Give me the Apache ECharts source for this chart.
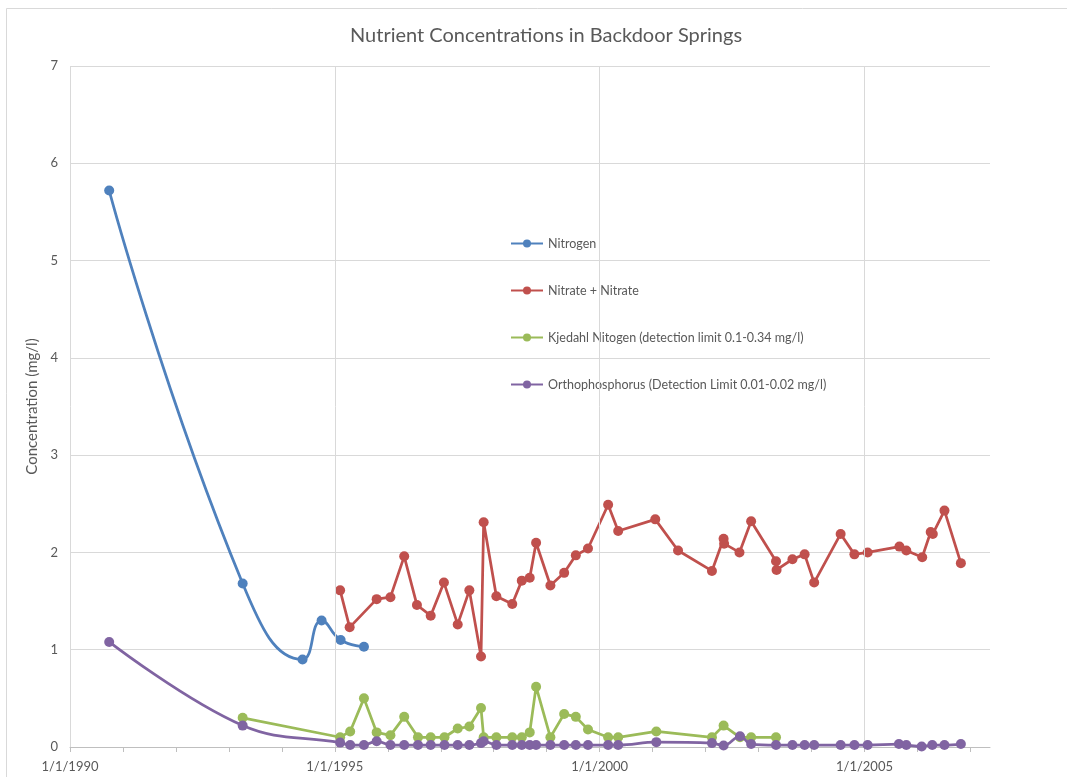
<!DOCTYPE html>
<html>
<head>
<meta charset="utf-8">
<script src="https://cdn.jsdelivr.net/npm/echarts@6/dist/echarts.min.js"></script>
<style>
html,body{margin:0;padding:0;background:#fff;}
#chart{width:1067px;height:777px;}
</style>
</head>
<body>
<div id="chart"></div>
<script>
// Dates as decimal years
const nitrogenX = [1990.74, 1993.26, 1994.39, 1994.75, 1995.11, 1995.55];
const nitrogenY = [5.72, 1.68, 0.90, 1.30, 1.10, 1.03];

const nitrateX = [1995.10, 1995.28, 1995.79, 1996.05, 1996.31, 1996.55, 1996.81, 1997.06, 1997.32, 1997.54,
  1997.76, 1997.81, 1998.05, 1998.35, 1998.53, 1998.68, 1998.80, 1999.07, 1999.33, 1999.55,
  1999.78, 2000.16, 2000.35, 2001.05, 2001.48, 2002.12, 2002.34, 2002.35, 2002.64, 2002.86,
  2003.33, 2003.34, 2003.64, 2003.87, 2004.05, 2004.55, 2004.81, 2005.06, 2005.66, 2005.79,
  2006.09, 2006.25, 2006.29, 2006.51, 2006.82];
const nitrateY = [1.61, 1.23, 1.52, 1.54, 1.96, 1.46, 1.35, 1.69, 1.26, 1.61,
  0.93, 2.31, 1.55, 1.47, 1.71, 1.74, 2.10, 1.66, 1.79, 1.97,
  2.04, 2.49, 2.22, 2.34, 2.02, 1.81, 2.14, 2.09, 2.00, 2.32,
  1.91, 1.82, 1.93, 1.98, 1.69, 2.19, 1.98, 2.00, 2.06, 2.02,
  1.95, 2.21, 2.19, 2.43, 1.89];

const kjedahlX = [1993.26, 1995.10, 1995.29, 1995.55, 1995.79, 1996.05, 1996.31, 1996.57, 1996.81, 1997.07,
  1997.32, 1997.54, 1997.76, 1997.81, 1998.05, 1998.35, 1998.53, 1998.68, 1998.80, 1999.07,
  1999.33, 1999.55, 1999.78, 2000.16, 2000.35, 2001.07, 2002.12, 2002.34, 2002.65, 2002.86, 2003.33];
const kjedahlY = [0.30, 0.10, 0.16, 0.50, 0.15, 0.12, 0.31, 0.10, 0.10, 0.10,
  0.19, 0.21, 0.40, 0.10, 0.10, 0.10, 0.10, 0.15, 0.62, 0.10,
  0.34, 0.31, 0.18, 0.10, 0.10, 0.16, 0.10, 0.22, 0.10, 0.10, 0.10];

const orthoX = [1990.74, 1993.26, 1995.10, 1995.29, 1995.55, 1995.79, 1996.05, 1996.31, 1996.57, 1996.81,
  1997.07, 1997.32, 1997.54, 1997.76, 1997.81, 1998.05, 1998.35, 1998.53, 1998.68, 1998.80,
  1999.07, 1999.33, 1999.55, 1999.78, 2000.16, 2000.35, 2001.07, 2002.12, 2002.34, 2002.65,
  2002.86, 2003.33, 2003.64, 2003.87, 2004.05, 2004.55, 2004.81, 2005.06, 2005.65, 2005.79,
  2006.08, 2006.28, 2006.51, 2006.82];
const orthoY = [1.08, 0.22, 0.045, 0.02, 0.02, 0.06, 0.02, 0.02, 0.02, 0.02,
  0.02, 0.02, 0.02, 0.04, 0.06, 0.02, 0.02, 0.02, 0.02, 0.02,
  0.02, 0.02, 0.02, 0.02, 0.02, 0.02, 0.05, 0.04, 0.015, 0.11,
  0.03, 0.02, 0.02, 0.02, 0.02, 0.02, 0.02, 0.02, 0.03, 0.02,
  0.005, 0.02, 0.02, 0.03];

const seriesNames = ['Nitrogen', 'Nitrate + Nitrate', 'Kjedahl Nitogen (detection limit 0.1-0.34 mg/l)',
  'Orthophosphorus (Detection Limit 0.01-0.02 mg/l)'];
const colors = ['#4F81BD', '#C0504D', '#9BBB59', '#8064A2'];
const yTicks = [0, 1, 2, 3, 4, 5, 6, 7];
const xMin = 1990, xMax = 2007.37;
const xLabelYears = [1990, 1995, 2000, 2005];
const xTickYears = [1990, 1991, 1992, 1993, 1994, 1995, 1996, 1997, 1998, 1999, 2000, 2001, 2002, 2003, 2004, 2005, 2006, 2007];

function pairs(xs, ys) { return xs.map((x, i) => [x, ys[i]]); }

const chart = echarts.init(document.getElementById('chart'));
const txt = '#595959';
const font = 'Lato, "Open Sans", sans-serif';

function mkSeries(i, xs, ys, smooth) {
  return {
    name: seriesNames[i],
    type: 'line',
    xAxisIndex: 0,
    data: pairs(xs, ys),
    smooth: smooth,
    symbol: 'circle',
    symbolSize: 10,
    showSymbol: true,
    lineStyle: { color: colors[i], width: 2.75 },
    itemStyle: { color: colors[i] },
    emphasis: { disabled: true },
    animation: false,
    z: 3 + i
  };
}

chart.setOption({
  animation: false,
  backgroundColor: '#ffffff',
  textStyle: { fontFamily: font },
  title: {
    text: 'Nutrient Concentrations in Backdoor Springs',
    left: 345,
    top: 21,
    textStyle: { fontFamily: font, fontSize: 20, fontWeight: 'normal', color: txt }
  },
  graphic: [{
    type: 'rect',
    shape: { x: 6.5, y: 8.5, width: 1200, height: 900 },
    style: { fill: 'none', stroke: '#d9d9d9', lineWidth: 1 },
    silent: true, z: -10
  }],
  legend: {
    orient: 'vertical',
    left: 505,
    top: 232,
    itemWidth: 32,
    itemHeight: 10,
    itemGap: 34,
    textStyle: { fontFamily: font, fontSize: 12.5, color: txt },
    data: seriesNames
  },
  grid: { left: 70, right: 77, top: 66, bottom: 30, containLabel: false },
  xAxis: [{
    type: 'value',
    min: xMin,
    max: xMax,
    interval: 5,
    axisLine: { show: true, lineStyle: { color: '#bfbfbf', width: 1 } },
    axisTick: { show: false },
    axisLabel: {
      color: txt, fontFamily: font, fontSize: 13, margin: 13,
      customValues: xLabelYears,
      formatter: v => '1/1/' + Math.round(v)
    },
    splitLine: { show: false }
  }, {
    type: 'value',
    position: 'bottom',
    min: xMin,
    max: xMax,
    interval: 5,
    axisLine: { show: false },
    axisTick: { show: true, length: 5, lineStyle: { color: '#bfbfbf' }, customValues: xTickYears },
    axisLabel: { show: false },
    splitLine: { show: false }
  }],
  yAxis: {
    type: 'value',
    min: yTicks[0],
    max: yTicks[yTicks.length - 1],
    interval: 1,
    name: 'Concentration (mg/l)',
    nameLocation: 'middle',
    nameGap: 24,
    nameTextStyle: { color: txt, fontFamily: font, fontSize: 15 },
    axisLine: { show: false },
    axisTick: { show: false },
    axisLabel: { color: txt, fontFamily: font, fontSize: 13, margin: 12 },
    splitLine: { show: true, lineStyle: { color: '#d9d9d9', width: 1 } }
  },
  series: [
    {
      name: 'xgrid',
      type: 'line',
      data: [],
      silent: true,
      z: 1,
      markLine: {
        silent: true,
        symbol: ['none', 'none'],
        label: { show: false },
        animation: false,
        lineStyle: { color: '#d9d9d9', width: 1, type: 'solid' },
        emphasis: { disabled: true },
        data: xLabelYears.map(y => ({ xAxis: y }))
      }
    },
    mkSeries(0, nitrogenX, nitrogenY, 0.5),
    mkSeries(1, nitrateX, nitrateY, false),
    mkSeries(2, kjedahlX, kjedahlY, false),
    mkSeries(3, orthoX, orthoY, 0.4)
  ]
});
</script>
</body>
</html>
